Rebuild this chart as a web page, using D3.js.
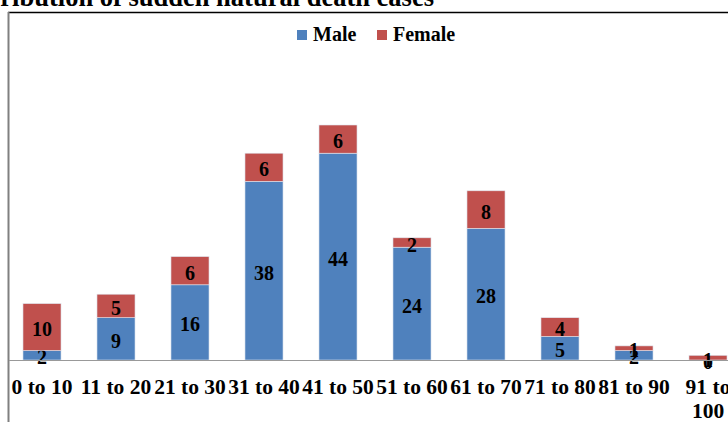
<!DOCTYPE html>
<html>
<head>
<meta charset="utf-8">
<script src="https://cdn.jsdelivr.net/npm/d3@7"></script>
<style>
  body { margin: 0; background: #fff; }
  svg { display: block; }
</style>
</head>
<body>
<div id="chart"></div>
<script>
// data
var ageGroups = ["0 to 10", "11 to 20", "21 to 30", "31 to 40", "41 to 50",
                 "51 to 60", "61 to 70", "71 to 80", "81 to 90", "91 to 100"];
var maleCases = [2, 9, 16, 38, 44, 24, 28, 5, 2, 0];
var femaleCases = [10, 5, 6, 6, 6, 2, 8, 4, 1, 1];
var seriesNames = ["Male", "Female"];
var seriesColors = ["#4F81BD", "#C0504D"];

var serif = "'Liberation Serif'";

//basic frame size
var width = 728, height = 422;

var svg = d3.select("#chart").append("svg")
    .attr("width", width)
    .attr("height", height);

function bold(sel, size) {
    return sel.style("font-family", serif)
        .style("font-weight", "bold")
        .style("font-size", size + "px")
        .attr("fill", "#000");
}

//title, clipped at the top of the picture
bold(svg.append("text"), 26.5)
    .attr("x", 434)
    .attr("y", 6)
    .attr("text-anchor", "end")
    .text("ribution of sudden natural death cases");

//chart frame
svg.append("line")
    .attr("x1", 8).attr("x2", width)
    .attr("y1", 12.5).attr("y2", 12.5)
    .attr("stroke", "#000").attr("stroke-width", 1.5);
svg.append("line")
    .attr("x1", 8.5).attr("x2", 8.5)
    .attr("y1", 12).attr("y2", height)
    .attr("stroke", "#808080").attr("stroke-width", 2);

//scales
var x = d3.scaleBand().domain(ageGroups).range([5, 745])
    .paddingInner(0.486).paddingOuter(0.243);
var y = d3.scaleLinear().domain([0, 50]).range([360, 125]);
var color = d3.scaleOrdinal().domain(seriesNames).range(seriesColors);

//stack the two series
var table = ageGroups.map((g, i) => ({ group: g, Male: maleCases[i], Female: femaleCases[i] }));
var stacked = d3.stack().keys(seriesNames)(table);

var layers = svg.selectAll(".layer")
    .data(stacked)
    .enter()
    .append("g")
    .attr("class", "layer")
    .attr("fill", d => color(d.key));

layers.selectAll("rect")
    .data(d => d)
    .enter()
    .append("rect")
    .attr("x", d => x(d.data.group))
    .attr("width", x.bandwidth())
    .attr("y", d => y(d[1]))
    .attr("height", d => y(d[0]) - y(d[1]))
    .attr("stroke", "#dfe6f0")
    .attr("stroke-width", 0.6);

//baseline
svg.append("line")
    .attr("x1", 9).attr("x2", width)
    .attr("y1", 360.5).attr("y2", 360.5)
    .attr("stroke", "#999").attr("stroke-width", 1.2);

//value labels
bold(layers.selectAll(".val")
    .data(d => d)
    .enter()
    .append("text"), 20)
    .attr("class", "val")
    .attr("x", d => x(d.data.group) + x.bandwidth() / 2)
    .attr("y", d => (y(d[0]) + y(d[1])) / 2 + 2)
    .attr("text-anchor", "middle")
    .attr("dominant-baseline", "central")
    .text(d => d[1] - d[0]);

//x axis labels
var xAxis = svg.append("g")
    .attr("transform", "translate(0,360)")
    .call(d3.axisBottom(x).tickSize(0).tickSizeOuter(0).tickPadding(0));
xAxis.select(".domain").remove();
bold(xAxis.selectAll("text"), 21.5)
    .attr("dy", null)
    .attr("y", 33.5)
    .each(function (d) {
        var t = d3.select(this);
        if (d.length > 8) {
            var cut = d.lastIndexOf(" ");
            t.text(null);
            t.append("tspan").attr("x", 0).attr("y", 33.5).text(d.slice(0, cut));
            t.append("tspan").attr("x", 0).attr("y", 57.5).text(d.slice(cut + 1));
        }
    });

//legend
var legend = svg.append("g").attr("class", "legend");
var legendX = [297, 377];
seriesNames.forEach((name, i) => {
    legend.append("rect")
        .attr("x", legendX[i]).attr("y", 30)
        .attr("width", 10).attr("height", 10)
        .attr("fill", color(name));
    bold(legend.append("text"), 20)
        .attr("x", legendX[i] + 16).attr("y", 41)
        .text(name);
});
</script>
</body>
</html>
